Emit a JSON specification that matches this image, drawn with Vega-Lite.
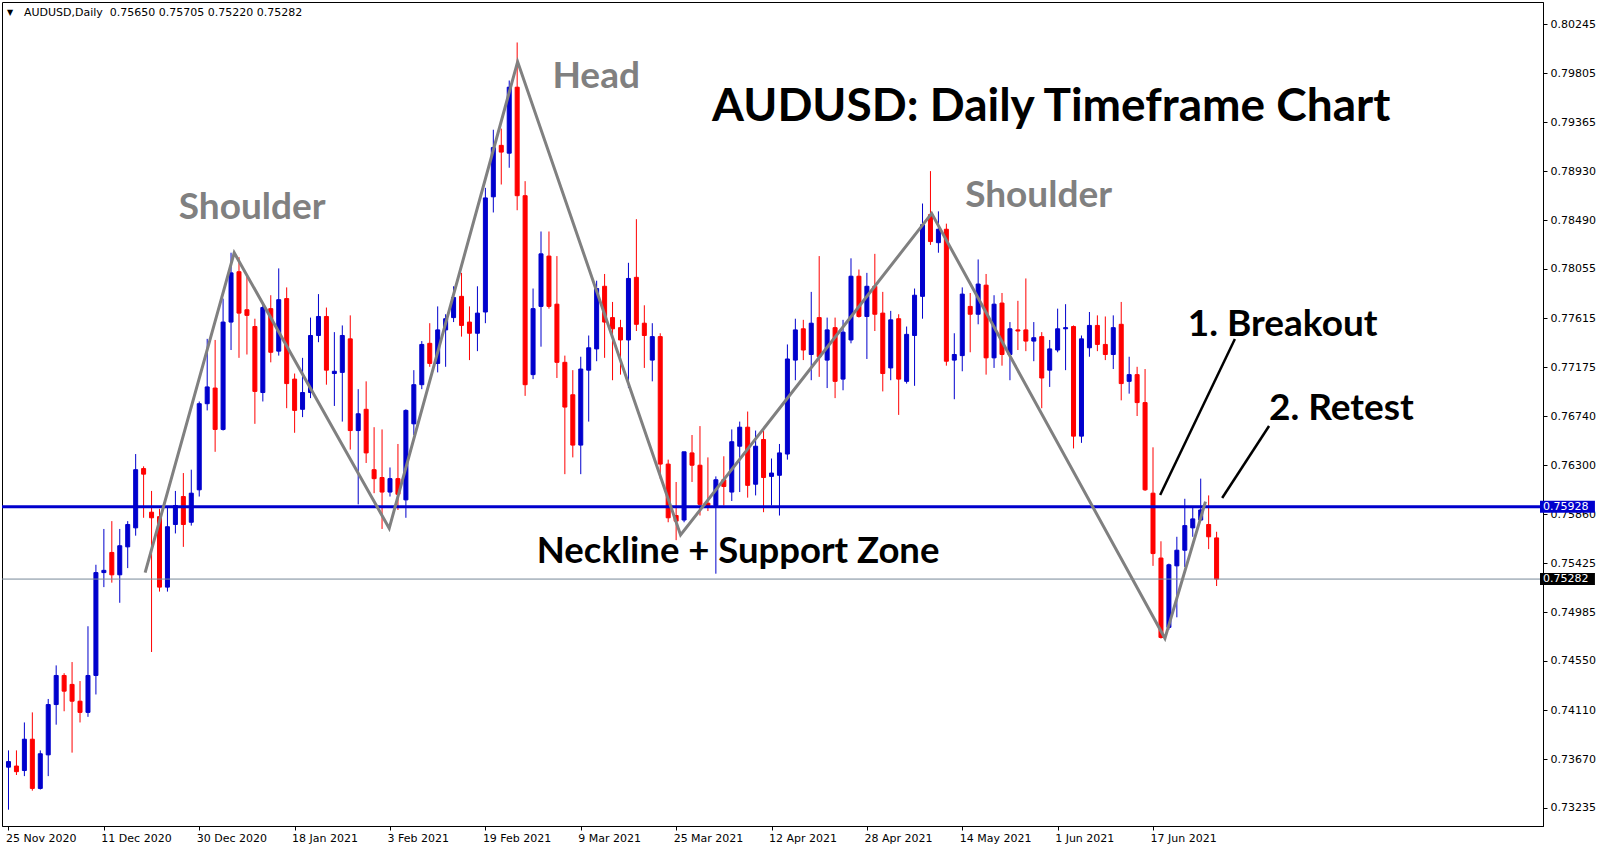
{
"$schema": "https://vega.github.io/schema/vega-lite/v6.json",
"width": 1541, "height": 824,
"autosize": {"type": "none"},
"padding": {"left": 2, "top": 2, "right": 64, "bottom": 24},
"background": "white",
"config": {"view": {"stroke": "black", "strokeWidth": 1}},
"resolve": {"scale": {"x": "shared", "y": "shared"}, "axis": {"x": "shared", "y": "shared"}},
"datasets": {
"candles": [
{"d":"2020-11-25","i":0,"o":0.7360,"h":0.7375,"l":0.7322,"c":0.7365},
{"d":"2020-11-26","i":1,"o":0.7361,"h":0.7375,"l":0.7353,"c":0.7356},
{"d":"2020-11-27","i":2,"o":0.7357,"h":0.7400,"l":0.7352,"c":0.7385},
{"d":"2020-11-30","i":3,"o":0.7385,"h":0.7409,"l":0.7339,"c":0.7341},
{"d":"2020-12-01","i":4,"o":0.7341,"h":0.7375,"l":0.7340,"c":0.7372},
{"d":"2020-12-02","i":5,"o":0.7371,"h":0.7421,"l":0.7352,"c":0.7416},
{"d":"2020-12-03","i":6,"o":0.7416,"h":0.7451,"l":0.7398,"c":0.7442},
{"d":"2020-12-04","i":7,"o":0.7442,"h":0.7444,"l":0.7410,"c":0.7428},
{"d":"2020-12-07","i":8,"o":0.7434,"h":0.7454,"l":0.7373,"c":0.7419},
{"d":"2020-12-08","i":9,"o":0.7419,"h":0.7437,"l":0.7400,"c":0.7409},
{"d":"2020-12-09","i":10,"o":0.7409,"h":0.7486,"l":0.7405,"c":0.7442},
{"d":"2020-12-10","i":11,"o":0.7442,"h":0.7541,"l":0.7425,"c":0.7534},
{"d":"2020-12-11","i":12,"o":0.7534,"h":0.7573,"l":0.7521,"c":0.7536},
{"d":"2020-12-14","i":13,"o":0.7552,"h":0.7580,"l":0.7525,"c":0.7532},
{"d":"2020-12-15","i":14,"o":0.7532,"h":0.7573,"l":0.7507,"c":0.7558},
{"d":"2020-12-16","i":15,"o":0.7557,"h":0.7580,"l":0.7538,"c":0.7577},
{"d":"2020-12-17","i":16,"o":0.7574,"h":0.7640,"l":0.7567,"c":0.7626},
{"d":"2020-12-18","i":17,"o":0.7627,"h":0.7629,"l":0.7583,"c":0.7622},
{"d":"2020-12-21","i":18,"o":0.7588,"h":0.7607,"l":0.7463,"c":0.7583},
{"d":"2020-12-22","i":19,"o":0.7584,"h":0.7591,"l":0.7517,"c":0.7521},
{"d":"2020-12-23","i":20,"o":0.7521,"h":0.7593,"l":0.7517,"c":0.7575},
{"d":"2020-12-24","i":21,"o":0.7577,"h":0.7607,"l":0.7569,"c":0.7594},
{"d":"2020-12-28","i":22,"o":0.7602,"h":0.7623,"l":0.7557,"c":0.7577},
{"d":"2020-12-29","i":23,"o":0.7579,"h":0.7626,"l":0.7576,"c":0.7605},
{"d":"2020-12-30","i":24,"o":0.7608,"h":0.7687,"l":0.7602,"c":0.7685},
{"d":"2020-12-31","i":25,"o":0.7685,"h":0.7743,"l":0.7679,"c":0.7700},
{"d":"2021-01-04","i":26,"o":0.7699,"h":0.7742,"l":0.7642,"c":0.7662},
{"d":"2021-01-05","i":27,"o":0.7662,"h":0.7779,"l":0.7661,"c":0.7758},
{"d":"2021-01-06","i":28,"o":0.7758,"h":0.7820,"l":0.7733,"c":0.7802},
{"d":"2021-01-07","i":29,"o":0.7803,"h":0.7816,"l":0.7726,"c":0.7766},
{"d":"2021-01-08","i":30,"o":0.7769,"h":0.7799,"l":0.7729,"c":0.7764},
{"d":"2021-01-11","i":31,"o":0.7754,"h":0.7761,"l":0.7667,"c":0.7696},
{"d":"2021-01-12","i":32,"o":0.7695,"h":0.7775,"l":0.7687,"c":0.7771},
{"d":"2021-01-13","i":33,"o":0.7770,"h":0.7782,"l":0.7722,"c":0.7731},
{"d":"2021-01-14","i":34,"o":0.7732,"h":0.7806,"l":0.7728,"c":0.7778},
{"d":"2021-01-15","i":35,"o":0.7779,"h":0.7789,"l":0.7681,"c":0.7703},
{"d":"2021-01-18","i":36,"o":0.7707,"h":0.7712,"l":0.7659,"c":0.7679},
{"d":"2021-01-19","i":37,"o":0.7680,"h":0.7726,"l":0.7673,"c":0.7695},
{"d":"2021-01-20","i":38,"o":0.7695,"h":0.7762,"l":0.7690,"c":0.7746},
{"d":"2021-01-21","i":39,"o":0.7746,"h":0.7783,"l":0.7740,"c":0.7763},
{"d":"2021-01-22","i":40,"o":0.7763,"h":0.7771,"l":0.7702,"c":0.7715},
{"d":"2021-01-25","i":41,"o":0.7712,"h":0.7749,"l":0.7683,"c":0.7714},
{"d":"2021-01-26","i":42,"o":0.7713,"h":0.7755,"l":0.7669,"c":0.7746},
{"d":"2021-01-27","i":43,"o":0.7743,"h":0.7764,"l":0.7644,"c":0.7661},
{"d":"2021-01-28","i":44,"o":0.7661,"h":0.7698,"l":0.7595,"c":0.7676},
{"d":"2021-01-29","i":45,"o":0.7680,"h":0.7705,"l":0.7632,"c":0.7641},
{"d":"2021-02-01","i":46,"o":0.7626,"h":0.7664,"l":0.7605,"c":0.7618},
{"d":"2021-02-02","i":47,"o":0.7619,"h":0.7662,"l":0.7573,"c":0.7606},
{"d":"2021-02-03","i":48,"o":0.7606,"h":0.7628,"l":0.7602,"c":0.7618},
{"d":"2021-02-04","i":49,"o":0.7618,"h":0.7649,"l":0.7590,"c":0.7604},
{"d":"2021-02-05","i":50,"o":0.7599,"h":0.7680,"l":0.7583,"c":0.7679},
{"d":"2021-02-08","i":51,"o":0.7667,"h":0.7715,"l":0.7657,"c":0.7702},
{"d":"2021-02-09","i":52,"o":0.7702,"h":0.7741,"l":0.7698,"c":0.7738},
{"d":"2021-02-10","i":53,"o":0.7739,"h":0.7757,"l":0.7718,"c":0.7721},
{"d":"2021-02-11","i":54,"o":0.7721,"h":0.7772,"l":0.7713,"c":0.7751},
{"d":"2021-02-12","i":55,"o":0.7751,"h":0.7765,"l":0.7718,"c":0.7761},
{"d":"2021-02-15","i":56,"o":0.7762,"h":0.7790,"l":0.7758,"c":0.7780},
{"d":"2021-02-16","i":57,"o":0.7781,"h":0.7802,"l":0.7745,"c":0.7755},
{"d":"2021-02-17","i":58,"o":0.7758,"h":0.7772,"l":0.7724,"c":0.7748},
{"d":"2021-02-18","i":59,"o":0.7748,"h":0.7790,"l":0.7732,"c":0.7766},
{"d":"2021-02-19","i":60,"o":0.7767,"h":0.7878,"l":0.7757,"c":0.7869},
{"d":"2021-02-22","i":61,"o":0.7870,"h":0.7930,"l":0.7856,"c":0.7914},
{"d":"2021-02-23","i":62,"o":0.7916,"h":0.7931,"l":0.7881,"c":0.7910},
{"d":"2021-02-24","i":63,"o":0.7909,"h":0.7974,"l":0.7896,"c":0.7968},
{"d":"2021-02-25","i":64,"o":0.7968,"h":0.8008,"l":0.7858,"c":0.7871},
{"d":"2021-02-26","i":65,"o":0.7871,"h":0.7884,"l":0.7692,"c":0.7702},
{"d":"2021-03-01","i":66,"o":0.7711,"h":0.7788,"l":0.7707,"c":0.7770},
{"d":"2021-03-02","i":67,"o":0.7772,"h":0.7839,"l":0.7736,"c":0.7819},
{"d":"2021-03-03","i":68,"o":0.7817,"h":0.7839,"l":0.7770,"c":0.7772},
{"d":"2021-03-04","i":69,"o":0.7774,"h":0.7817,"l":0.7708,"c":0.7722},
{"d":"2021-03-05","i":70,"o":0.7722,"h":0.7728,"l":0.7622,"c":0.7682},
{"d":"2021-03-08","i":71,"o":0.7693,"h":0.7715,"l":0.7637,"c":0.7648},
{"d":"2021-03-09","i":72,"o":0.7648,"h":0.7727,"l":0.7622,"c":0.7716},
{"d":"2021-03-10","i":73,"o":0.7715,"h":0.7746,"l":0.7669,"c":0.7735},
{"d":"2021-03-11","i":74,"o":0.7734,"h":0.7795,"l":0.7723,"c":0.7788},
{"d":"2021-03-12","i":75,"o":0.7790,"h":0.7801,"l":0.7726,"c":0.7758},
{"d":"2021-03-15","i":76,"o":0.7762,"h":0.7776,"l":0.7706,"c":0.7752},
{"d":"2021-03-16","i":77,"o":0.7753,"h":0.7760,"l":0.7711,"c":0.7742},
{"d":"2021-03-17","i":78,"o":0.7742,"h":0.7811,"l":0.7699,"c":0.7797},
{"d":"2021-03-18","i":79,"o":0.7798,"h":0.7850,"l":0.7750,"c":0.7756},
{"d":"2021-03-19","i":80,"o":0.7757,"h":0.7773,"l":0.7717,"c":0.7746},
{"d":"2021-03-22","i":81,"o":0.7724,"h":0.7757,"l":0.7705,"c":0.7745},
{"d":"2021-03-23","i":82,"o":0.7745,"h":0.7748,"l":0.7618,"c":0.7631},
{"d":"2021-03-24","i":83,"o":0.7631,"h":0.7635,"l":0.7579,"c":0.7583},
{"d":"2021-03-25","i":84,"o":0.7585,"h":0.7615,"l":0.7563,"c":0.7580},
{"d":"2021-03-26","i":85,"o":0.7581,"h":0.7642,"l":0.7579,"c":0.7642},
{"d":"2021-03-29","i":86,"o":0.7641,"h":0.7657,"l":0.7615,"c":0.7630},
{"d":"2021-03-30","i":87,"o":0.7630,"h":0.7665,"l":0.7585,"c":0.7595},
{"d":"2021-03-31","i":88,"o":0.7596,"h":0.7637,"l":0.7589,"c":0.7594},
{"d":"2021-04-01","i":89,"o":0.7594,"h":0.7620,"l":0.7533,"c":0.7617},
{"d":"2021-04-02","i":90,"o":0.7617,"h":0.7638,"l":0.7594,"c":0.7611},
{"d":"2021-04-05","i":91,"o":0.7606,"h":0.7662,"l":0.7598,"c":0.7651},
{"d":"2021-04-06","i":92,"o":0.7647,"h":0.7669,"l":0.7606,"c":0.7664},
{"d":"2021-04-07","i":93,"o":0.7664,"h":0.7678,"l":0.7601,"c":0.7612},
{"d":"2021-04-08","i":94,"o":0.7613,"h":0.7661,"l":0.7603,"c":0.7647},
{"d":"2021-04-09","i":95,"o":0.7653,"h":0.7661,"l":0.7588,"c":0.7619},
{"d":"2021-04-12","i":96,"o":0.7620,"h":0.7636,"l":0.7594,"c":0.7623},
{"d":"2021-04-13","i":97,"o":0.7621,"h":0.7649,"l":0.7585,"c":0.7641},
{"d":"2021-04-14","i":98,"o":0.7640,"h":0.7738,"l":0.7635,"c":0.7725},
{"d":"2021-04-15","i":99,"o":0.7724,"h":0.7761,"l":0.7706,"c":0.7751},
{"d":"2021-04-16","i":100,"o":0.7752,"h":0.7760,"l":0.7724,"c":0.7733},
{"d":"2021-04-19","i":101,"o":0.7729,"h":0.7785,"l":0.7706,"c":0.7757},
{"d":"2021-04-20","i":102,"o":0.7762,"h":0.7817,"l":0.7709,"c":0.7727},
{"d":"2021-04-21","i":103,"o":0.7724,"h":0.7762,"l":0.7699,"c":0.7751},
{"d":"2021-04-22","i":104,"o":0.7753,"h":0.7762,"l":0.7690,"c":0.7705},
{"d":"2021-04-23","i":105,"o":0.7707,"h":0.7760,"l":0.7697,"c":0.7749},
{"d":"2021-04-26","i":106,"o":0.7742,"h":0.7815,"l":0.7739,"c":0.7799},
{"d":"2021-04-27","i":107,"o":0.7799,"h":0.7805,"l":0.7762,"c":0.7763},
{"d":"2021-04-28","i":108,"o":0.7763,"h":0.7802,"l":0.7725,"c":0.7790},
{"d":"2021-04-29","i":109,"o":0.7790,"h":0.7819,"l":0.7750,"c":0.7765},
{"d":"2021-04-30","i":110,"o":0.7766,"h":0.7785,"l":0.7696,"c":0.7712},
{"d":"2021-05-03","i":111,"o":0.7717,"h":0.7768,"l":0.7706,"c":0.7760},
{"d":"2021-05-04","i":112,"o":0.7761,"h":0.7765,"l":0.7675,"c":0.7707},
{"d":"2021-05-05","i":113,"o":0.7705,"h":0.7754,"l":0.7703,"c":0.7747},
{"d":"2021-05-06","i":114,"o":0.7746,"h":0.7788,"l":0.7701,"c":0.7782},
{"d":"2021-05-07","i":115,"o":0.7781,"h":0.7864,"l":0.7761,"c":0.7845},
{"d":"2021-05-10","i":116,"o":0.7854,"h":0.7893,"l":0.7827,"c":0.7830},
{"d":"2021-05-11","i":117,"o":0.7829,"h":0.7857,"l":0.7820,"c":0.7841},
{"d":"2021-05-12","i":118,"o":0.7841,"h":0.7846,"l":0.7719,"c":0.7723},
{"d":"2021-05-13","i":119,"o":0.7724,"h":0.7748,"l":0.7689,"c":0.7729},
{"d":"2021-05-14","i":120,"o":0.7728,"h":0.7789,"l":0.7714,"c":0.7783},
{"d":"2021-05-17","i":121,"o":0.7772,"h":0.7784,"l":0.7731,"c":0.7765},
{"d":"2021-05-18","i":122,"o":0.7765,"h":0.7814,"l":0.7756,"c":0.7792},
{"d":"2021-05-19","i":123,"o":0.7791,"h":0.7801,"l":0.7711,"c":0.7726},
{"d":"2021-05-20","i":124,"o":0.7726,"h":0.7782,"l":0.7717,"c":0.7774},
{"d":"2021-05-21","i":125,"o":0.7775,"h":0.7784,"l":0.7719,"c":0.7729},
{"d":"2021-05-24","i":126,"o":0.7729,"h":0.7758,"l":0.7706,"c":0.7752},
{"d":"2021-05-25","i":127,"o":0.7751,"h":0.7777,"l":0.7733,"c":0.7750},
{"d":"2021-05-26","i":128,"o":0.7751,"h":0.7797,"l":0.7732,"c":0.7741},
{"d":"2021-05-27","i":129,"o":0.7741,"h":0.7758,"l":0.7723,"c":0.7744},
{"d":"2021-05-28","i":130,"o":0.7745,"h":0.7749,"l":0.7681,"c":0.7708},
{"d":"2021-05-31","i":131,"o":0.7715,"h":0.7742,"l":0.7700,"c":0.7734},
{"d":"2021-06-01","i":132,"o":0.7733,"h":0.7770,"l":0.7731,"c":0.7752},
{"d":"2021-06-02","i":133,"o":0.7752,"h":0.7774,"l":0.7715,"c":0.7753},
{"d":"2021-06-03","i":134,"o":0.7754,"h":0.7755,"l":0.7645,"c":0.7656},
{"d":"2021-06-04","i":135,"o":0.7656,"h":0.7746,"l":0.7650,"c":0.7743},
{"d":"2021-06-07","i":136,"o":0.7735,"h":0.7767,"l":0.7727,"c":0.7755},
{"d":"2021-06-08","i":137,"o":0.7755,"h":0.7764,"l":0.7732,"c":0.7738},
{"d":"2021-06-09","i":138,"o":0.7738,"h":0.7763,"l":0.7724,"c":0.7729},
{"d":"2021-06-10","i":139,"o":0.7729,"h":0.7764,"l":0.7716,"c":0.7753},
{"d":"2021-06-11","i":140,"o":0.7756,"h":0.7776,"l":0.7688,"c":0.7703},
{"d":"2021-06-14","i":141,"o":0.7705,"h":0.7727,"l":0.7694,"c":0.7711},
{"d":"2021-06-15","i":142,"o":0.7711,"h":0.7718,"l":0.7674,"c":0.7686},
{"d":"2021-06-16","i":143,"o":0.7686,"h":0.7716,"l":0.7607,"c":0.7608},
{"d":"2021-06-17","i":144,"o":0.7605,"h":0.7646,"l":0.7540,"c":0.7551},
{"d":"2021-06-18","i":145,"o":0.7547,"h":0.7562,"l":0.7475,"c":0.7476},
{"d":"2021-06-21","i":146,"o":0.7485,"h":0.7542,"l":0.7483,"c":0.7541},
{"d":"2021-06-22","i":147,"o":0.7540,"h":0.7566,"l":0.7494,"c":0.7554},
{"d":"2021-06-23","i":148,"o":0.7554,"h":0.7600,"l":0.7539,"c":0.7576},
{"d":"2021-06-24","i":149,"o":0.7574,"h":0.7593,"l":0.7566,"c":0.7582},
{"d":"2021-06-25","i":150,"o":0.7581,"h":0.7618,"l":0.7580,"c":0.7590},
{"d":"2021-06-28","i":151,"o":0.7577,"h":0.7603,"l":0.7555,"c":0.7566},
{"d":"2021-06-29","i":152,"o":0.75650,"h":0.75705,"l":0.75220,"c":0.75282}
],
"zigzag": [
{"k":1,"i":17.19,"p":0.75339},
{"k":2,"i":28.4,"p":0.78200},
{"k":3,"i":47.9,"p":0.75736},
{"k":4,"i":64.06,"p":0.79908},
{"k":5,"i":84.56,"p":0.75676},
{"k":6,"i":116.15,"p":0.78552},
{"k":7,"i":145.5,"p":0.74752},
{"k":8,"i":150.6,"p":0.75974}
],
"pointers": [
{"id":"breakout","k":1,"i":144.9,"p":0.76034},
{"id":"breakout","k":2,"i":154.3,"p":0.77428},
{"id":"retest","k":1,"i":152.7,"p":0.76007},
{"id":"retest","k":2,"i":158.6,"p":0.76651}
],
"levels": [
{"name":"neckline","value":0.75928},
{"name":"last","value":0.75282}
],
"notes": [
{"note":"title","text":"AUDUSD: Daily Timeframe Chart"},
{"note":"head","text":"Head"},
{"note":"lshoulder","text":"Shoulder"},
{"note":"rshoulder","text":"Shoulder"},
{"note":"breakout","text":"1. Breakout"},
{"note":"retest","text":"2. Retest"},
{"note":"neck","text":"Neckline + Support Zone"},
{"note":"marker","text":"▼"},
{"note":"header","text":"AUDUSD,Daily\u00a0\u00a00.75650 0.75705 0.75220 0.75282"}
]
},
"layer": [
{
"data": {"name": "candles"},
"mark": {"type": "rule", "strokeWidth": 1, "clip": true},
"encoding": {
"x": {"field": "i", "type": "quantitative",
"scale": {"domain": [-0.1875, 192.4375], "nice": false, "zero": false},
"axis": {"orient": "bottom", "values": [0,12,24,36,48,60,72,84,96,108,120,132,144],
"labelExpr": "['25 Nov 2020','11 Dec 2020','30 Dec 2020','18 Jan 2021','3 Feb 2021','19 Feb 2021','9 Mar 2021','25 Mar 2021','12 Apr 2021','28 Apr 2021','14 May 2021','1 Jun 2021','17 Jun 2021'][round(datum.value/12)]",
"title": null, "grid": false, "domain": true, "domainColor": "black", "ticks": true, "tickColor": "black", "tickSize": 4,
"labels": true, "labelAlign": "left", "labelBaseline": "top", "labelPadding": 2, "labelOffset": -3, "labelFont": "DejaVu Sans", "labelFontSize": 11, "labelColor": "black", "labelOverlap": false, "zindex": 2}},
"y": {"field": "l", "type": "quantitative",
"scale": {"domain": [0.73074, 0.80442], "nice": false, "zero": false},
"axis": {"orient": "right", "values": [0.73235,0.7367,0.7411,0.7455,0.74985,0.75425,0.7586,0.763,0.7674,0.77175,0.77615,0.78055,0.7849,0.7893,0.79365,0.79805,0.80245],
"format": ".5f", "title": null, "grid": false, "domain": true, "domainColor": "black", "ticks": true, "tickColor": "black", "tickSize": 4,
"labels": true, "labelPadding": 3, "labelFont": "DejaVu Sans", "labelFontSize": 11, "labelColor": "black", "labelOverlap": false, "zindex": 0}},
"y2": {"field": "h"},
"color": {"condition": {"test": "datum.c >= datum.o", "value": "#0000CD"}, "value": "#FF0000"}
}
},
{
"data": {"name": "candles"},
"mark": {"type": "bar", "size": 4, "strokeWidth": 1, "clip": true},
"encoding": {
"x": {"field": "i", "type": "quantitative"},
"y": {"field": "o", "type": "quantitative"},
"y2": {"field": "c"},
"fill": {"condition": {"test": "datum.c >= datum.o", "value": "#0000CD"}, "value": "#FF0000"},
"stroke": {"condition": {"test": "datum.c >= datum.o", "value": "#0000CD"}, "value": "#FF0000"}
}
},
{
"data": {"name": "levels"},
"transform": [{"filter": "datum.name == 'last'"}],
"mark": {"type": "rule", "strokeWidth": 1, "color": "#778899"},
"encoding": {"y": {"field": "value", "type": "quantitative"}}
},
{
"data": {"name": "levels"},
"transform": [{"filter": "datum.name == 'neckline'"}],
"mark": {"type": "rule", "strokeWidth": 3, "color": "#0000CD"},
"encoding": {"y": {"field": "value", "type": "quantitative"}}
},
{
"data": {"name": "zigzag"},
"mark": {"type": "line", "strokeWidth": 3, "color": "#808080"},
"encoding": {
"x": {"field": "i", "type": "quantitative"},
"y": {"field": "p", "type": "quantitative"},
"order": {"field": "k"}
}
},
{
"data": {"name": "pointers"},
"mark": {"type": "line", "strokeWidth": 2.5, "color": "black"},
"encoding": {
"x": {"field": "i", "type": "quantitative"},
"y": {"field": "p", "type": "quantitative"},
"detail": {"field": "id"},
"order": {"field": "k"}
}
},
{
"data": {"name": "levels"},
"mark": {"type": "rule", "strokeWidth": 12, "strokeCap": "butt"},
"encoding": {
"x": {"datum": 192.69, "type": "quantitative"},
"x2": {"datum": 199.6},
"y": {"field": "value", "type": "quantitative"},
"color": {"condition": {"test": "datum.name == 'neckline'", "value": "#0000CD"}, "value": "black"}
}
},
{
"data": {"name": "levels"},
"mark": {"type": "text", "font": "DejaVu Sans", "fontSize": 11, "align": "left", "baseline": "middle", "color": "white"},
"encoding": {
"x": {"datum": 193.06, "type": "quantitative"},
"y": {"field": "value", "type": "quantitative"},
"text": {"field": "value", "format": ".5f"}
}
},
{
"data": {"name": "notes"},
"transform": [{"filter": "datum.note == 'title'"}],
"mark": {"type": "text", "font": "Lato", "fontWeight": "bold", "fontSize": 46, "align": "center", "baseline": "alphabetic", "color": "black"},
"encoding": {
"x": {"datum": 131.19, "type": "quantitative"},
"y": {"datum": 0.79378, "type": "quantitative"},
"text": {"field": "text"}
}
},
{
"data": {"name": "notes"},
"transform": [{"filter": "datum.note == 'head'"}],
"mark": {"type": "text", "font": "Lato", "fontWeight": "bold", "fontSize": 37, "align": "center", "baseline": "alphabetic", "color": "#808080"},
"encoding": {
"x": {"datum": 73.94, "type": "quantitative"},
"y": {"datum": 0.79670, "type": "quantitative"},
"text": {"field": "text"}
}
},
{
"data": {"name": "notes"},
"transform": [{"filter": "datum.note == 'lshoulder'"}],
"mark": {"type": "text", "font": "Lato", "fontWeight": "bold", "fontSize": 37, "align": "center", "baseline": "alphabetic", "color": "#808080"},
"encoding": {
"x": {"datum": 30.66, "type": "quantitative"},
"y": {"datum": 0.78501, "type": "quantitative"},
"text": {"field": "text"}
}
},
{
"data": {"name": "notes"},
"transform": [{"filter": "datum.note == 'rshoulder'"}],
"mark": {"type": "text", "font": "Lato", "fontWeight": "bold", "fontSize": 37, "align": "center", "baseline": "alphabetic", "color": "#808080"},
"encoding": {
"x": {"datum": 129.6, "type": "quantitative"},
"y": {"datum": 0.78613, "type": "quantitative"},
"text": {"field": "text"}
}
},
{
"data": {"name": "notes"},
"transform": [{"filter": "datum.note == 'breakout'"}],
"mark": {"type": "text", "font": "Lato", "fontWeight": "bold", "fontSize": 37, "align": "center", "baseline": "alphabetic", "color": "black"},
"encoding": {
"x": {"datum": 160.31, "type": "quantitative"},
"y": {"datum": 0.77455, "type": "quantitative"},
"text": {"field": "text"}
}
},
{
"data": {"name": "notes"},
"transform": [{"filter": "datum.note == 'retest'"}],
"mark": {"type": "text", "font": "Lato", "fontWeight": "bold", "fontSize": 37, "align": "center", "baseline": "alphabetic", "color": "black"},
"encoding": {
"x": {"datum": 167.69, "type": "quantitative"},
"y": {"datum": 0.76704, "type": "quantitative"},
"text": {"field": "text"}
}
},
{
"data": {"name": "notes"},
"transform": [{"filter": "datum.note == 'neck'"}],
"mark": {"type": "text", "font": "Lato", "fontWeight": "bold", "fontSize": 36.5, "align": "center", "baseline": "alphabetic", "color": "black"},
"encoding": {
"x": {"datum": 91.8, "type": "quantitative"},
"y": {"datum": 0.75423, "type": "quantitative"},
"text": {"field": "text"}
}
},
{
"data": {"name": "notes"},
"transform": [{"filter": "datum.note == 'marker'"}],
"mark": {"type": "text", "font": "DejaVu Sans", "fontSize": 8, "align": "center", "baseline": "middle", "color": "black"},
"encoding": {
"x": {"datum": 0.19, "type": "quantitative"},
"y": {"datum": 0.80343, "type": "quantitative"},
"text": {"field": "text"}
}
},
{
"data": {"name": "notes"},
"transform": [{"filter": "datum.note == 'header'"}],
"mark": {"type": "text", "font": "DejaVu Sans", "fontSize": 11, "align": "left", "baseline": "middle", "color": "black"},
"encoding": {
"x": {"datum": 1.95, "type": "quantitative"},
"y": {"datum": 0.80343, "type": "quantitative"},
"text": {"field": "text"}
}
}
]
}
